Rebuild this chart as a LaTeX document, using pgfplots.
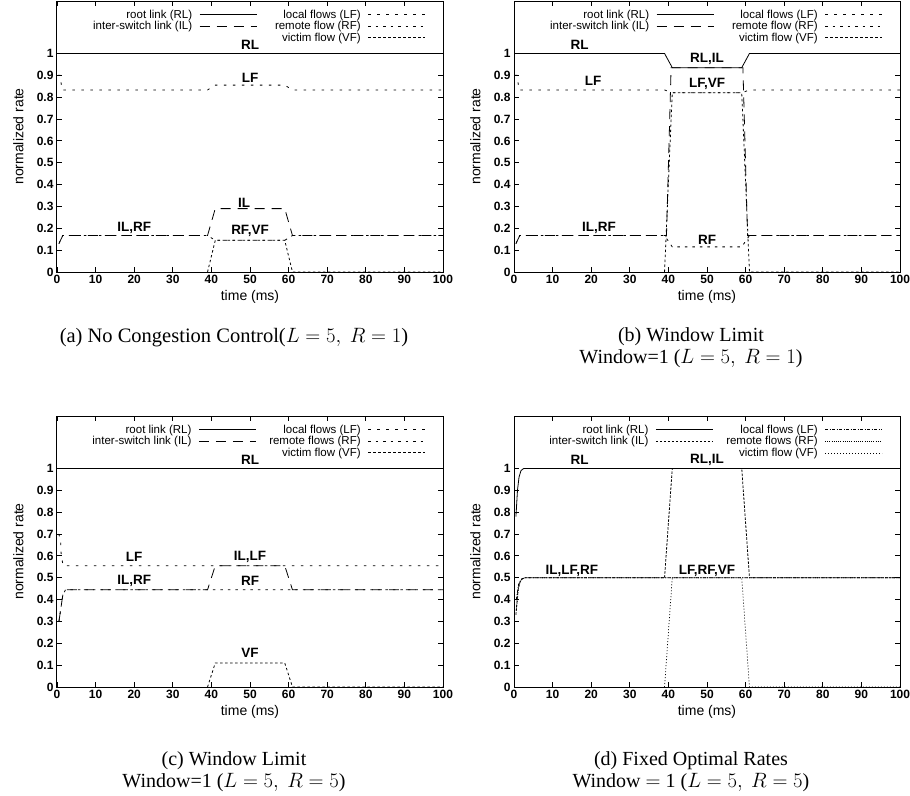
\documentclass[border=0pt]{standalone}
\usepackage{pgfplots}
\pgfplotsset{compat=1.18}
\usepackage{fontspec}
\setmainfont{Liberation Serif}
\setsansfont{Liberation Sans}

\tikzset{
  rl/.style={black, solid, line width=0.8pt},
  ilA/.style={black, line width=0.8pt, dash pattern=on 10pt off 7pt},
  lfA/.style={black, line width=0.8pt, dash pattern=on 2.5pt off 6.5pt},
  rfA/.style={black, line width=0.8pt, dash pattern=on 2.5pt off 5pt},
  vfA/.style={black, line width=0.8pt, dash pattern=on 2.5pt off 2.5pt},
  ilD/.style={black, line width=0.8pt, dash pattern=on 2.5pt off 1.5pt},
  lfD/.style={black, line width=0.8pt, dash pattern=on 3pt off 1.5pt on 1pt off 1.5pt},
  rfD/.style={black, line width=0.7pt, dash pattern=on 1pt off 1.2pt},
  vfD/.style={black, line width=0.7pt, dash pattern=on 1pt off 2pt},
  lab/.style={font=\sffamily\bfseries\fontsize{13.5}{14}\selectfont, anchor=center},
}
\pgfplotsset{
  myaxis/.style={
    scale only axis, width=386pt, height=271pt,
    xmin=0, xmax=100, ymin=0, ymax=1.24,
    xtick={0,10,20,30,40,50,60,70,80,90,100},
    ytick={0,0.1,0.2,0.3,0.4,0.5,0.6,0.7,0.8,0.9,1},
    tick align=inside, major tick length=5pt,
    axis line style={line width=1pt},
    tick style={line width=0.8pt, black},
    /pgf/number format/assume math mode=true,
    ticklabel style={font=\sffamily\bfseries\fontsize{12}{12}\selectfont},
    xlabel={time (ms)}, ylabel={normalized rate},
    label style={font=\sffamily\fontsize{14}{14}\selectfont},
    xlabel style={at={(axis description cs:0.5,-0.092)}, anchor=center},
    ylabel style={at={(axis description cs:-0.1,0.5)}, anchor=center},
    legend columns=2,
    legend plot pos=right,
    legend cell align=right,
    legend image code/.code={\path (0pt,0pt); \draw[##1] (7pt,0pt) -- (64pt,0pt);},
    legend style={at={(axis description cs:0.955,0.972)}, anchor=north east,
      draw=none, fill=none, inner sep=0pt,
      font=\sffamily\fontsize{11.5}{11.5}\selectfont,
      nodes={inner ysep=0.9pt, inner xsep=0pt},
      /tikz/every even column/.append style={column sep=18pt}},
  },
}

\begin{document}
\begin{tikzpicture}
\useasboundingbox (0,0) rectangle (910pt,-795pt);

% ---------------- (a)
\begin{axis}[myaxis, at={(57pt,-272pt)}, anchor=south west]
\addplot[rl, forget plot] coordinates {(0,1) (100,1)};
\addplot[lfA, forget plot] coordinates {(0.3,0.9) (0.8,0.9) (1.3,0.833) (39,0.833) (41,0.855) (59,0.855) (61,0.833) (100,0.833)};
\addplot[ilA, forget plot] coordinates {(0.5,0.13) (1.5,0.167) (39,0.167) (41,0.29) (59,0.29) (61,0.167) (100,0.167)};
\addplot[rfA, forget plot] coordinates {(0.5,0.13) (1.5,0.167) (39,0.167) (41,0.145) (59,0.145) (61,0.167) (100,0.167)};
\addplot[vfA, forget plot] coordinates {(39,0) (41,0.145) (59,0.145) (61,0) (100,0)};
\addlegendimage{rl}\addlegendentry{root link (RL)}
\addlegendimage{lfA}\addlegendentry{local flows (LF)}
\addlegendimage{ilA}\addlegendentry{inter-switch link (IL)}
\addlegendimage{rfA}\addlegendentry{remote flow (RF)}
\addlegendimage{empty legend}\addlegendentry{}
\addlegendimage{vfA}\addlegendentry{victim flow (VF)}
\node[lab] at (axis cs:50,1.04) {RL};
\node[lab] at (axis cs:50,0.89) {LF};
\node[lab] at (axis cs:48.5,0.315) {IL};
\node[lab] at (axis cs:20,0.2) {IL,RF};
\node[lab] at (axis cs:50,0.19) {RF,VF};
\end{axis}

% ---------------- (b)
\begin{axis}[myaxis, at={(514pt,-272pt)}, anchor=south west]
\addplot[rl, forget plot] coordinates {(0,1) (39,1) (41,0.935) (59,0.935) (61,1) (100,1)};
\addplot[lfA, forget plot] coordinates {(0.3,0.9) (0.8,0.9) (1.3,0.833) (39,0.833) (41,0.82) (59,0.82) (61,0.833) (100,0.833)};
\addplot[ilA, forget plot] coordinates {(0.5,0.13) (1.5,0.167) (39.5,0.167) (40.7,0.935) (59.3,0.935) (60.5,0.167) (100,0.167)};
\addplot[rfA, forget plot] coordinates {(0.5,0.13) (1.5,0.167) (39,0.167) (41,0.115) (59,0.115) (61,0.167) (100,0.167)};
\addplot[vfA, forget plot] coordinates {(39,0) (41,0.82) (59,0.82) (61,0) (100,0)};
\addlegendimage{rl}\addlegendentry{root link (RL)}
\addlegendimage{lfA}\addlegendentry{local flows (LF)}
\addlegendimage{ilA}\addlegendentry{inter-switch link (IL)}
\addlegendimage{rfA}\addlegendentry{remote flow (RF)}
\addlegendimage{empty legend}\addlegendentry{}
\addlegendimage{vfA}\addlegendentry{victim flow (VF)}
\node[lab] at (axis cs:17,1.04) {RL};
\node[lab] at (axis cs:50,0.975) {RL,IL};
\node[lab] at (axis cs:20.5,0.875) {LF};
\node[lab] at (axis cs:50,0.86) {LF,VF};
\node[lab] at (axis cs:22,0.2) {IL,RF};
\node[lab] at (axis cs:50,0.148) {RF};
\end{axis}

% ---------------- (c)
\begin{axis}[myaxis, at={(57pt,-687pt)}, anchor=south west,
  legend style={/tikz/every even column/.append style={column sep=13pt}}]
\addplot[rl, forget plot] coordinates {(0,1) (100,1)};
\addplot[lfA, forget plot] coordinates {(0.4,0.7) (0.9,0.68) (1.1,0.6) (1.6,0.555) (100,0.555)};
\addplot[ilA, forget plot] coordinates {(0.5,0.3) (1.5,0.42) (2.2,0.445) (39,0.445) (41,0.555) (59,0.555) (61,0.445) (100,0.445)};
\addplot[rfA, forget plot] coordinates {(0.5,0.3) (1.5,0.42) (2.2,0.445) (100,0.445)};
\addplot[vfA, forget plot] coordinates {(39,0) (41,0.11) (59,0.11) (61,0) (100,0)};
\addlegendimage{rl}\addlegendentry{root link (RL)}
\addlegendimage{lfA}\addlegendentry{local flows (LF)}
\addlegendimage{ilA}\addlegendentry{inter-switch link (IL)}
\addlegendimage{rfA}\addlegendentry{remote flows (RF)}
\addlegendimage{empty legend}\addlegendentry{}
\addlegendimage{vfA}\addlegendentry{victim flow (VF)}
\node[lab] at (axis cs:50,1.04) {RL};
\node[lab] at (axis cs:20,0.595) {LF};
\node[lab] at (axis cs:50,0.595) {IL,LF};
\node[lab] at (axis cs:20,0.485) {IL,RF};
\node[lab] at (axis cs:50,0.485) {RF};
\node[lab] at (axis cs:50,0.155) {VF};
\end{axis}

% ---------------- (d)
\begin{axis}[myaxis, at={(514pt,-687pt)}, anchor=south west,
  legend style={/tikz/every even column/.append style={column sep=13pt}}]
\addplot[rl, forget plot] coordinates {(0.5,0.78) (0.9,0.9) (1.3,0.96) (1.8,0.99) (2.5,1) (100,1)};
\addplot[lfD, forget plot] coordinates {(0.6,0.4) (1.2,0.47) (2,0.495) (3,0.5) (100,0.5)};
\addplot[ilD, forget plot] coordinates {(0.5,0.33) (1,0.44) (1.6,0.485) (2.5,0.5) (39,0.5) (41,1) (59,1) (61,0.5) (100,0.5)};
\addplot[rfD, forget plot] coordinates {(0.6,0.35) (1.2,0.46) (2,0.495) (3,0.5) (100,0.5)};
\addplot[vfD, forget plot] coordinates {(39,0) (41,0.5) (59,0.5) (61,0) (100,0)};
\addlegendimage{rl}\addlegendentry{root link (RL)}
\addlegendimage{lfD}\addlegendentry{local flows (LF)}
\addlegendimage{ilD}\addlegendentry{inter-switch link (IL)}
\addlegendimage{rfD}\addlegendentry{remote flows (RF)}
\addlegendimage{empty legend}\addlegendentry{}
\addlegendimage{vfD}\addlegendentry{victim flow (VF)}
\node[lab] at (axis cs:17,1.04) {RL};
\node[lab] at (axis cs:50,1.04) {RL,IL};
\node[lab] at (axis cs:15,0.53) {IL,LF,RF};
\node[lab] at (axis cs:50,0.53) {LF,RF,VF};
\end{axis}

% ---------------- captions
\node[font=\fontsize{20.5}{20}\selectfont] at (234pt,-338pt) {(a) No Congestion Control($L=5,\ R=1$)};
\node[font=\fontsize{20}{22}\selectfont, align=center] at (691pt,-348pt) {(b) Window Limit\\Window=1 ($L=5,\ R=1$)};
\node[font=\fontsize{20}{22}\selectfont, align=center] at (234pt,-772pt) {(c) Window Limit\\Window=1 ($L=5,\ R=5$)};
\node[font=\fontsize{20}{22}\selectfont, align=center] at (691pt,-772pt) {(d) Fixed Optimal Rates\\Window $=$ 1 ($L=5,\ R=5$)};
\end{tikzpicture}
\end{document}
